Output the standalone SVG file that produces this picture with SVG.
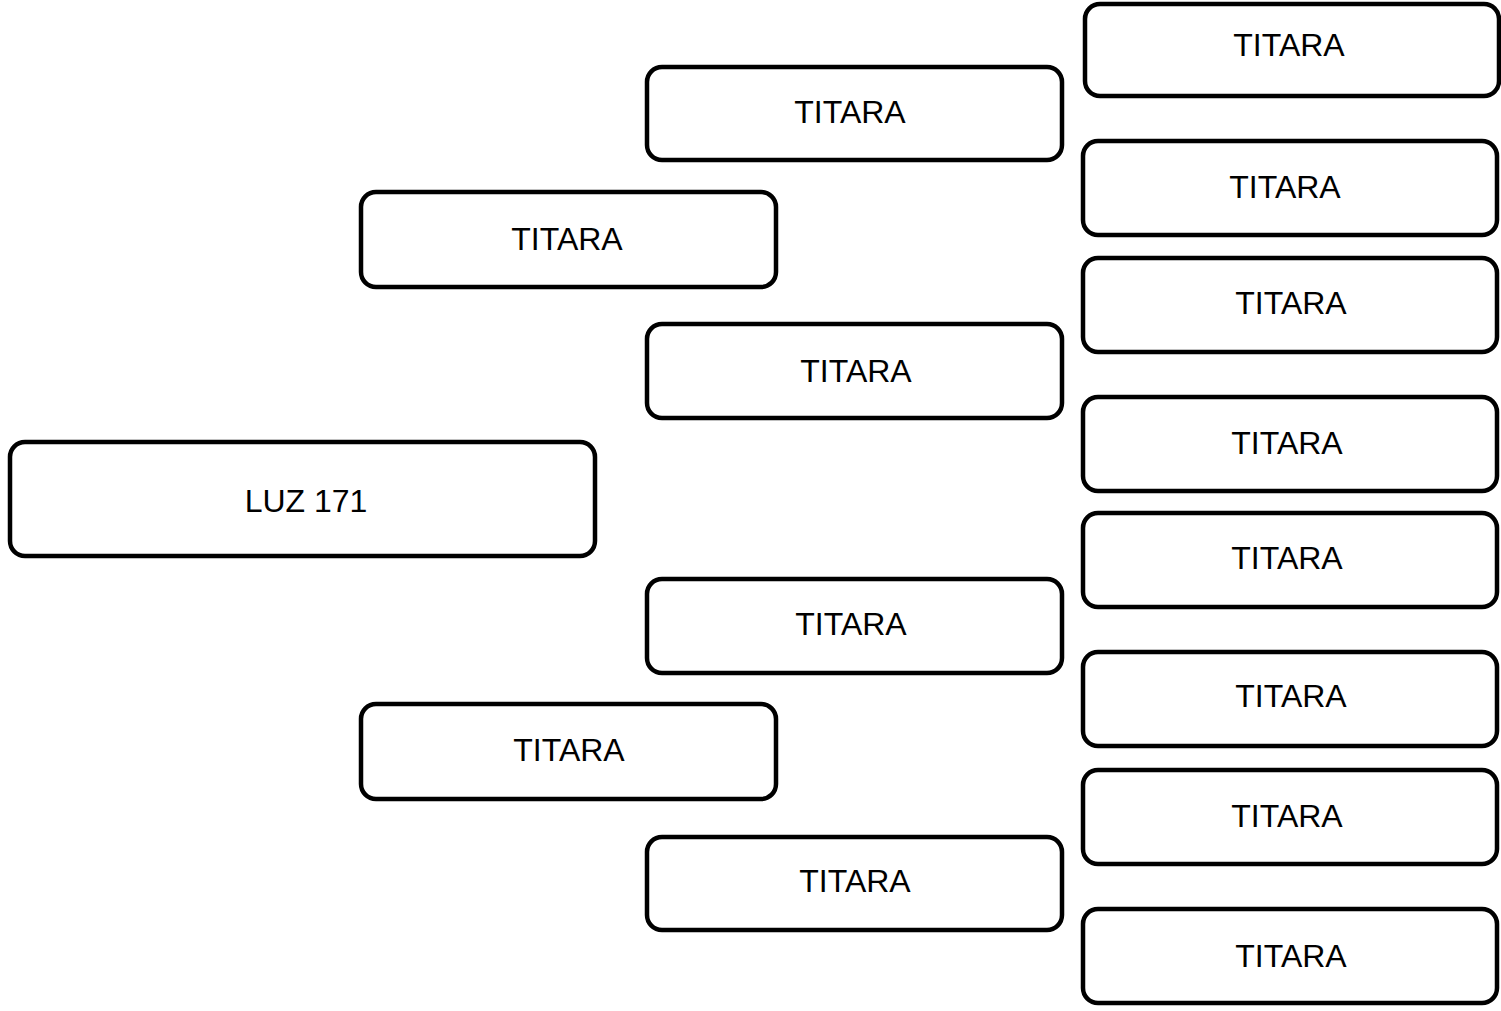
<svg xmlns="http://www.w3.org/2000/svg" width="1501" height="1011" viewBox="0 0 1501 1011">
<style>
.box{fill:#fff;stroke:#000;stroke-width:4.5}
.lbl{font-family:"Liberation Sans",Arial,sans-serif;font-size:32px;fill:#000;text-anchor:middle}
</style>
<rect width="1501" height="1011" fill="#fff"/>
<g id="connectors"></g>
<g id="n0"><rect class="box" x="10" y="442" width="585" height="114" rx="15"/><text class="lbl" x="306" y="512">LUZ 171</text></g>
<g id="n1"><rect class="box" x="361" y="192" width="415" height="95" rx="15"/><text class="lbl" x="567" y="250">TITARA</text></g>
<g id="n2"><rect class="box" x="361" y="704" width="415" height="95" rx="15"/><text class="lbl" x="569" y="761">TITARA</text></g>
<g id="n3"><rect class="box" x="647" y="67" width="415" height="93" rx="15"/><text class="lbl" x="850" y="123">TITARA</text></g>
<g id="n4"><rect class="box" x="647" y="324" width="415" height="94" rx="15"/><text class="lbl" x="856" y="382">TITARA</text></g>
<g id="n5"><rect class="box" x="647" y="579" width="415" height="94" rx="15"/><text class="lbl" x="851" y="635">TITARA</text></g>
<g id="n6"><rect class="box" x="647" y="837" width="415" height="93" rx="15"/><text class="lbl" x="855" y="892">TITARA</text></g>
<g id="n7"><rect class="box" x="1085" y="4" width="414" height="92" rx="15"/><text class="lbl" x="1289" y="56">TITARA</text></g>
<g id="n8"><rect class="box" x="1083" y="141" width="414" height="94" rx="15"/><text class="lbl" x="1285" y="198">TITARA</text></g>
<g id="n9"><rect class="box" x="1083" y="258" width="414" height="94" rx="15"/><text class="lbl" x="1291" y="314">TITARA</text></g>
<g id="n10"><rect class="box" x="1083" y="397" width="414" height="94" rx="15"/><text class="lbl" x="1287" y="454">TITARA</text></g>
<g id="n11"><rect class="box" x="1083" y="513" width="414" height="94" rx="15"/><text class="lbl" x="1287" y="569">TITARA</text></g>
<g id="n12"><rect class="box" x="1083" y="652" width="414" height="94" rx="15"/><text class="lbl" x="1291" y="707">TITARA</text></g>
<g id="n13"><rect class="box" x="1083" y="770" width="414" height="94" rx="15"/><text class="lbl" x="1287" y="827">TITARA</text></g>
<g id="n14"><rect class="box" x="1083" y="909" width="414" height="94" rx="15"/><text class="lbl" x="1291" y="967">TITARA</text></g>
</svg>
